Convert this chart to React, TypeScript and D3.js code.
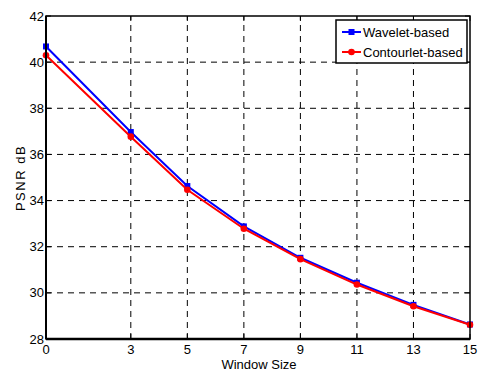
import React from "react";
import * as d3 from "d3";

const windowSizes = [0, 3, 5, 7, 9, 11, 13, 15];
const waveletPSNR = [40.68, 36.97, 34.63, 32.88, 31.52, 30.44, 29.48, 28.63];
const contourletPSNR = [40.3, 36.77, 34.47, 32.78, 31.46, 30.36, 29.42, 28.62];
const xTicks = [0, 3, 5, 7, 9, 11, 13, 15];
const yTicks = [28, 30, 32, 34, 36, 38, 40, 42];
const seriesNames = ["Wavelet-based", "Contourlet-based"];

const W = 479, H = 374;
const M = { left: 46, right: 9, top: 16, bottom: 35 };

export default function App() {
  const x = d3.scaleLinear().domain([0, 15]).range([M.left, W - M.right]);
  const y = d3.scaleLinear().domain([28, 42]).range([H - M.bottom, M.top]);
  const line = d3.line<number>().x((_, i) => x(windowSizes[i])).y((d) => y(d));
  const font = "Liberation Sans, Arial, sans-serif";
  const series = [
    { name: seriesNames[0], vals: waveletPSNR, color: "#0000ff", marker: "square" },
    { name: seriesNames[1], vals: contourletPSNR, color: "#ff0000", marker: "circle" },
  ];
  const x0 = M.left, x1 = W - M.right, y0 = H - M.bottom, y1 = M.top;
  return (
    <svg width={W} height={H} style={{ position: "absolute", left: 0, top: 0, background: "#fff" }} fontFamily={font}>
      <rect x={0} y={0} width={W} height={H} fill="#fff" />
      {/* grid */}
      {xTicks.filter((t) => t !== 0 && t !== 15).map((t) => (
        <line key={"gx" + t} x1={x(t)} x2={x(t)} y1={y0} y2={y1} stroke="#000" strokeWidth={1} strokeDasharray="6,5" />
      ))}
      {yTicks.filter((t) => t !== 28 && t !== 42).map((t) => (
        <line key={"gy" + t} x1={x0} x2={x1} y1={y(t)} y2={y(t)} stroke="#000" strokeWidth={1} strokeDasharray="6,5" />
      ))}
      {/* series */}
      {series.map((s) => (
        <g key={s.name}>
          <path d={line(s.vals) || ""} fill="none" stroke={s.color} strokeWidth={2} />
          {s.vals.map((v, i) =>
            s.marker === "square" ? (
              <rect key={i} x={x(windowSizes[i]) - 3} y={y(v) - 3} width={6} height={6} fill={s.color} />
            ) : (
              <circle key={i} cx={x(windowSizes[i])} cy={y(v)} r={3.3} fill={s.color} />
            )
          )}
        </g>
      ))}
      {/* axes box */}
      <rect x={x0} y={y1} width={x1 - x0} height={y0 - y1} fill="none" stroke="#000" strokeWidth={1.5} />
      <line x1={x0} x2={x1} y1={y0} y2={y0} stroke="#000" strokeWidth={2.5} />
      <line x1={x0} x2={x0} y1={y0} y2={y1} stroke="#000" strokeWidth={2} />
      {xTicks.map((t) => (
        <g key={"tx" + t}>
          <line x1={x(t)} x2={x(t)} y1={y0} y2={y0 - 5} stroke="#000" />
          <line x1={x(t)} x2={x(t)} y1={y1} y2={y1 + 5} stroke="#000" />
          <text x={x(t)} y={y0 + 15} fontSize={13} textAnchor="middle">{t}</text>
        </g>
      ))}
      {yTicks.map((t) => (
        <g key={"ty" + t}>
          <line x1={x0} x2={x0 + 5} y1={y(t)} y2={y(t)} stroke="#000" />
          <line x1={x1} x2={x1 - 5} y1={y(t)} y2={y(t)} stroke="#000" />
          <text x={x0 - 2} y={y(t) + 4.5} fontSize={13} textAnchor="end">{t}</text>
        </g>
      ))}
      <text x={(x0 + x1) / 2 + 1} y={369} fontSize={13} textAnchor="middle">Window Size</text>
      <text transform={`translate(25,178) rotate(-90)`} fontSize={13} textAnchor="middle" letterSpacing={1.5}>PSNR dB</text>
      {/* legend */}
      <g>
        <rect x={336} y={20} width={131} height={43} fill="#fff" stroke="#000" strokeWidth={1.5} />
        {series.map((s, i) => {
          const ly = 32 + i * 20;
          return (
            <g key={"lg" + s.name}>
              <line x1={342} x2={361} y1={ly} y2={ly} stroke={s.color} strokeWidth={2} />
              {s.marker === "square" ? (
                <rect x={348.5} y={ly - 3} width={6} height={6} fill={s.color} />
              ) : (
                <circle cx={351.5} cy={ly} r={3.3} fill={s.color} />
              )}
              <text x={363} y={ly + 5} fontSize={13}>{s.name}</text>
            </g>
          );
        })}
      </g>
    </svg>
  );
}
